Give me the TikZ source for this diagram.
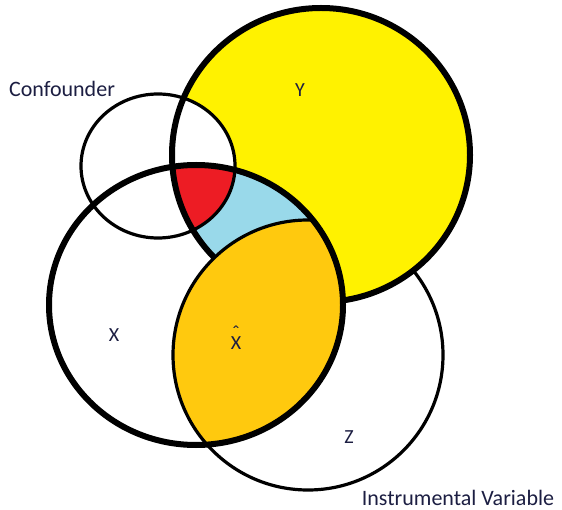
\documentclass[tikz,border=0pt]{standalone}
\usepackage{fontspec}
\setmainfont{Carlito}
\definecolor{yelc}{RGB}{255,242,0}
\definecolor{redc}{RGB}{237,28,36}
\definecolor{bluec}{RGB}{153,217,234}
\definecolor{orac}{RGB}{255,201,14}
\definecolor{textc}{RGB}{28,30,66}
\tikzset{
  thickline/.style={draw=black, line width=6pt},
  thinline/.style={draw=black, line width=3.2pt},
  lab/.style={text=textc, inner sep=0pt, font=\fontsize{22}{26}\selectfont},
  letter/.style={text=textc, inner sep=0pt, font=\fontsize{20}{24}\selectfont}
}
\def\Ypath{(321,155) ellipse [x radius=149pt, y radius=147pt]}
\def\Xpath{(196,305) ellipse [x radius=147pt, y radius=140pt]}
\def\Cpath{(158,166) ellipse [x radius=77pt, y radius=72pt]}
\def\Zpath{(308,355) ellipse [x radius=135pt, y radius=135pt]}
\begin{document}
\begin{tikzpicture}[x=1pt,y=-1pt]
\useasboundingbox (0,0) rectangle (562,510);
% Z outline (hidden later under yellow)
\path[thinline] \Zpath;
% Y fill
\fill[yelc] \Ypath;
% confounder and X interiors white
\fill[white] \Cpath;
\fill[white] \Xpath;
% X cap Y blue, X cap Y cap C red
\begin{scope}
  \clip \Xpath;
  \fill[bluec] \Ypath;
  \begin{scope}
    \clip \Cpath;
    \fill[redc] \Ypath;
  \end{scope}
\end{scope}
% Y outline and confounder outline
\path[thickline] \Ypath;
\path[thinline] \Cpath;
% X cap Z orange, with Z outline inside X
\begin{scope}
  \clip \Xpath;
  \fill[orac] \Zpath;
  \path[thinline] \Zpath;
\end{scope}
% X outline
\path[thickline] \Xpath;
% labels
\node[lab] (conf) at (62,89) {Confounder};
\node[lab] (inst) at (458,498) {Instrumental Variable};
\node[letter] (ly) at (300,90) {Y};
\node[letter] (lx) at (114,335) {X};
\node[letter] (lxh) at (236,343) {\ooalign{X\cr\hidewidth\raisebox{0.52em}{\char"02C6}\hidewidth\cr}};
\node[letter] (lz) at (349,437) {Z};
\end{tikzpicture}
\end{document}
